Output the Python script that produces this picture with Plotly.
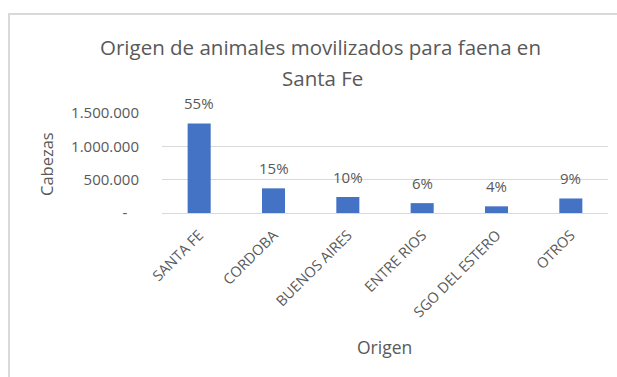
import plotly.graph_objects as go

# Origin provinces and head counts of animals moved for slaughter
origenes = ["SANTA FE", "CORDOBA", "BUENOS AIRES", "ENTRE RIOS", "SGO DEL ESTERO", "OTROS"]
cabezas = [1343000, 370000, 240000, 148000, 100000, 218000]
porcentajes = ["55%", "15%", "10%", "6%", "4%", "9%"]

y_ticks = [0, 500000, 1000000, 1500000]
y_tick_labels = ["-\u00a0\u00a0\u00a0", "500.000", "1.000.000", "1.500.000"]

titulo = ["Origen de animales movilizados para faena en", "Santa Fe"]

FONT = "Open Sans"
GRAY = "#595959"

W, H = 617, 377
L, R, T, B = 162, 9, 112.7, 163.7


def px(x, y):
    """Pixel position on the page -> paper coordinates."""
    return (x - L) / (W - L - R), (H - B - y) / (H - T - B)


fig = go.Figure(
    go.Bar(
        x=origenes,
        y=cabezas,
        marker=dict(color="#4472C4", line=dict(width=0)),
        width=0.31,
    )
)

# percentage labels above each bar
for o, v, p in zip(origenes, cabezas, porcentajes):
    fig.add_annotation(
        x=o, y=v, text=p, showarrow=False, yanchor="middle", yshift=20,
        font=dict(family=FONT, size=15, color=GRAY),
    )

# chart title, two lines
for (cx, cy), line in zip([(320, 46), (322, 77)], titulo):
    ax, ay = px(cx, cy)
    fig.add_annotation(
        x=ax, y=ay, xref="paper", yref="paper", text=line, showarrow=False,
        xanchor="center", yanchor="middle",
        font=dict(family=FONT, size=20.5, color=GRAY),
    )

# axis titles
ax, ay = px(47, 164)
fig.add_annotation(
    x=ax, y=ay, xref="paper", yref="paper", text="Cabezas", showarrow=False,
    textangle=-90, xanchor="center", yanchor="middle",
    font=dict(family=FONT, size=16.5, color=GRAY),
)
ax, ay = px(384, 348)
fig.add_annotation(
    x=ax, y=ay, xref="paper", yref="paper", text="Origen", showarrow=False,
    xanchor="center", yanchor="middle",
    font=dict(family=FONT, size=17.5, color=GRAY),
)

# chart frame
x0, y1 = px(9, 13)
x1, y0 = px(W + 20, H + 20)
fig.add_shape(
    type="rect", xref="paper", yref="paper", x0=x0, x1=x1, y0=y0, y1=y1,
    line=dict(color="#d9d9d9", width=2), layer="below",
)

fig.update_layout(
    width=W, height=H,
    margin=dict(l=L, r=R, t=T, b=B),
    paper_bgcolor="white", plot_bgcolor="white",
    showlegend=False,
    font=dict(family=FONT, color=GRAY),
)
fig.update_yaxes(
    range=[0, 1500000], tickvals=y_ticks, ticktext=y_tick_labels,
    showgrid=True, gridcolor="#d9d9d9", gridwidth=1,
    zeroline=True, zerolinecolor="#d9d9d9", zerolinewidth=1,
    showline=False, ticks="", ticklabelstandoff=22,
    tickfont=dict(family=FONT, size=15, color=GRAY),
)
fig.update_xaxes(
    tickangle=-45, showline=False, ticks="", showgrid=False,
    ticklabelstandoff=10,
    tickfont=dict(family=FONT, size=14.5, color=GRAY),
)

fig.write_html("out.html")
